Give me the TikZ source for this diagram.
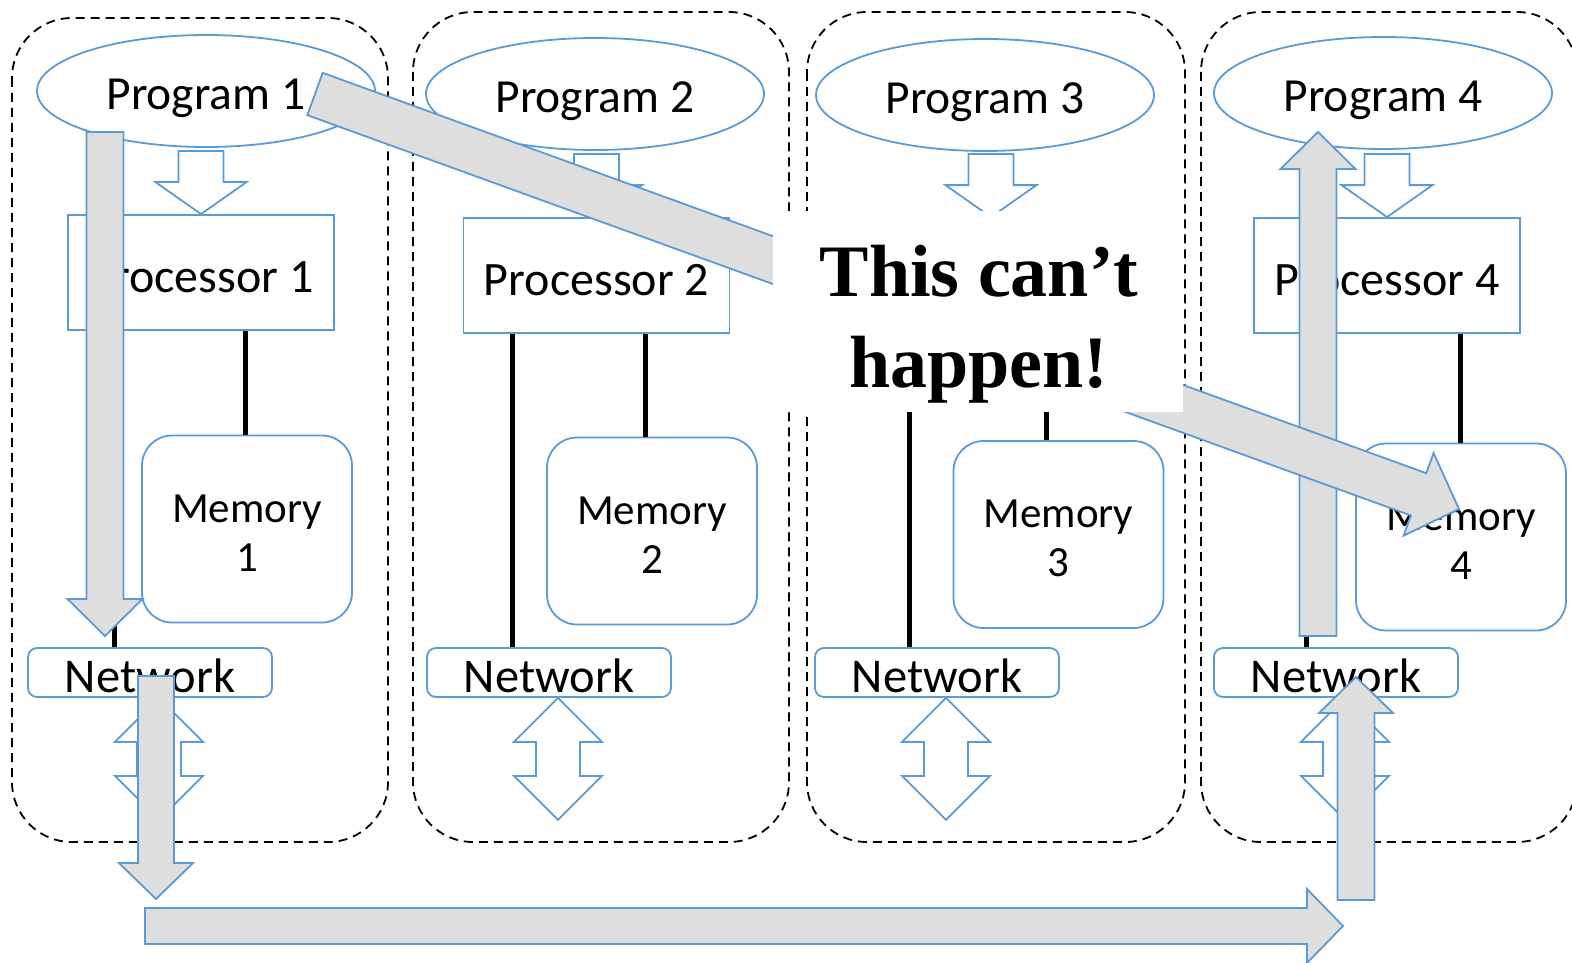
\documentclass[tikz,border=0pt]{standalone}
\usepackage{fontspec}
\setmainfont{Carlito}
\newfontfamily\calloutfont{Liberation Serif}
\usetikzlibrary{shapes.geometric,calc}

\definecolor{edgeblue}{RGB}{91,155,213}
\definecolor{arrowgray}{RGB}{222,222,222}

\tikzset{
  cluster/.style={draw=black, line width=1.8pt, dash pattern=on 9pt off 6pt, rounded corners=60pt},
  prog/.style={ellipse, draw=edgeblue, line width=1.8pt, fill=white, minimum width=338pt, minimum height=112pt,
    inner sep=0pt, text height=37pt, text depth=0pt, font=\fontsize{47.5}{52}\selectfont},
  cpu/.style={rectangle, draw=edgeblue, line width=1.8pt, fill=white, minimum width=266pt, minimum height=115pt,
    inner sep=0pt, text height=39pt, text depth=0pt, font=\fontsize{48}{52}\selectfont},
  mem/.style={rectangle, rounded corners=30pt, draw=edgeblue, line width=1.8pt, fill=white, minimum width=210pt,
    minimum height=187pt, inner sep=0pt, align=center, font=\fontsize{43}{49}\selectfont},
  net/.style={rectangle, rounded corners=9pt, draw=edgeblue, line width=1.8pt, fill=white, minimum width=244pt,
    minimum height=49pt, inner sep=0pt, text height=39pt, text depth=0pt, font=\fontsize{48.5}{52}\selectfont},
  link/.style={draw=black, line width=5pt},
  hollow/.style={draw=edgeblue, line width=1.8pt, fill=white, line join=miter},
  grayarrow/.style={draw=edgeblue, line width=1.8pt, fill=arrowgray, line join=miter},
  callbox/.style={rectangle, fill=white, minimum width=410pt, minimum height=201pt, inner sep=0pt},
}

% block arrow: [style]{from}{tip}{half shaft}{half head}{head length}
\newcommand{\blkarrow}[6][grayarrow]{%
  \coordinate (bh) at ($(#3)!#6!(#2)$);
  \draw[#1] ($(#2)!#4!90:(#3)$) -- ($(bh)!#4!90:(#3)$) -- ($(bh)!#5!90:(#3)$) -- (#3)
    -- ($(bh)!#5!-90:(#3)$) -- ($(bh)!#4!-90:(#3)$) -- ($(#2)!#4!-90:(#3)$) -- cycle;}

\begin{document}
\begin{tikzpicture}[x=1pt, y=-1pt]
\useasboundingbox (0,0) rectangle (1572,963);

% one column per machine
\foreach \i/\cl/\ct/\cw/\ex/\ey/\px/\py/\mx/\my/\nx/\lx/\lm in {
  1/12/18/388/206/91/201/272.5/247/529/150/114/245,
  2/413/12/789/595/94/596.5/275.5/652/531/549/512/645,
  3/807/12/1185/985/95/991/275.5/1058.5/534.5/937/909/1046,
  4/1201/12/1577/1383/93/1387/275.5/1461/537/1336/1306/1460} {
  \draw[cluster] (\cl,\ct) rectangle (\cw,842);
  \node[prog] (prog\i) at (\ex,\ey) {Program \i};
  \node[cpu] (cpu\i) at (\px,\py) {\ifnum\i=3 \else Processor \i\fi};
  \node[mem] (mem\i) at (\mx,\my) {\rule{0pt}{35pt}Memory\\\i};
  \node[net] (net\i) at (\nx,672.5) {Network};
  \draw[link] (\lm,0 |- mem\i.north) -- (\lm,0 |- cpu\i.south);
  \draw[link] (\lx,0 |- net\i.north) -- (\lx,0 |- cpu\i.south);
  \coordinate (feed\i) at ([yshift=63pt]cpu\i.north);
  \blkarrow[hollow]{feed\i}{cpu\i.north}{22.5pt}{45.5pt}{32pt}
  \draw[hollow] ([xshift=9pt]net\i.south) -- ++(44,44) -- ++(-22,0) -- ++(0,34) -- ++(22,0)
    -- ++(-44,44) -- ++(-44,-44) -- ++(22,0) -- ++(0,-34) -- ++(-22,0) -- cycle;
}

% the path a message has to take
\coordinate (p1out) at (105,132);
\coordinate (n1in) at (105,636);
\coordinate (n1out) at (156,676);
\coordinate (busl) at (156,899);
\coordinate (busa) at (145,926);
\coordinate (busb) at (1343,926);
\coordinate (busup) at (1356,900);
\coordinate (n4in) at (1356,677);
\coordinate (n4out) at (1318,636);
\coordinate (p4in) at (1318,132);
\blkarrow{n4out}{p4in}{18.5pt}{37.5pt}{37pt}
\blkarrow{p1out}{n1in}{18.5pt}{37.5pt}{37pt}
\blkarrow{n1out}{busl}{18pt}{37pt}{36pt}
\blkarrow{busa}{busb}{18pt}{37pt}{36pt}
\blkarrow{busup}{n4in}{18.5pt}{37pt}{36pt}

% the shortcut
\coordinate (p1far) at (315,94);
\coordinate (m4in) at (1459,509);
\blkarrow{p1far}{m4in}{22.5pt}{44pt}{43pt}

\node[callbox] (callout) at (978,311.5) {};
\node[align=center, inner sep=0pt, font=\calloutfont\bfseries\fontsize{74}{91}\selectfont] (calltext)
  at (979,324.5) {This can’t\\happen!};
\end{tikzpicture}
\end{document}
